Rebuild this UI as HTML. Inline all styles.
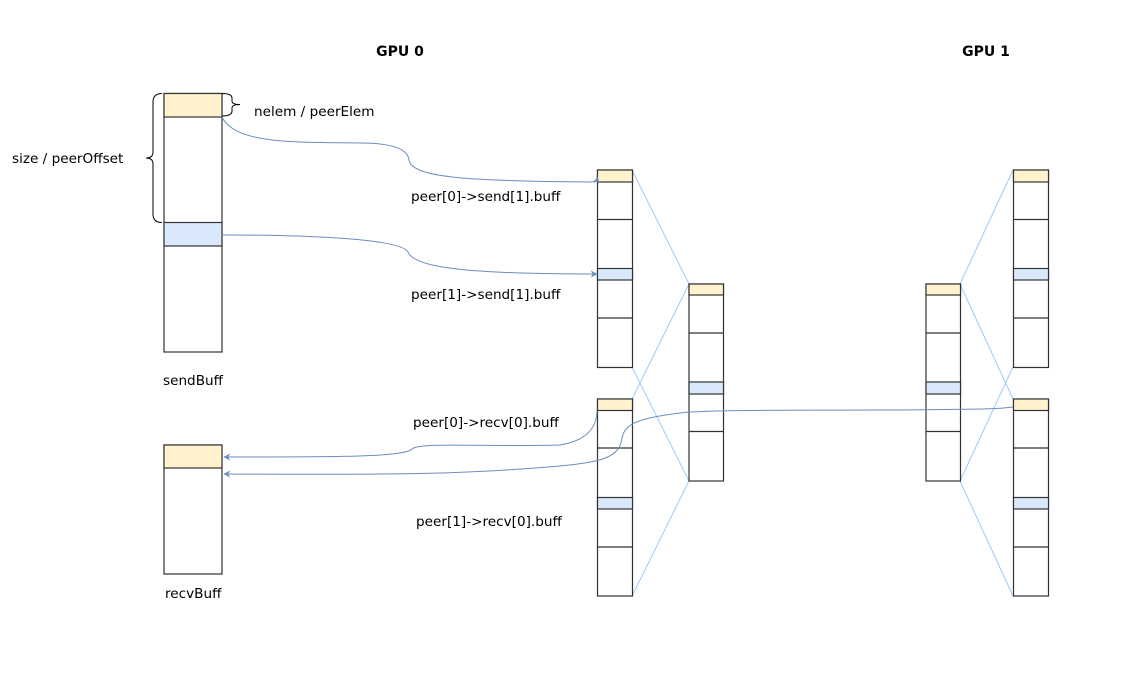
<!DOCTYPE html>
<html><head><meta charset="utf-8"><style>
html,body{margin:0;padding:0;background:#fff;}
svg text{font-family:"DejaVu Sans","Liberation Sans",sans-serif;font-size:13.6px;fill:#000;}
</style></head><body>
<svg width="1135" height="671" viewBox="0 0 1135 671" xmlns="http://www.w3.org/2000/svg">
<defs>
<marker id="ar" viewBox="0 0 10 10" refX="9" refY="5" markerWidth="7" markerHeight="7" orient="auto"><path d="M0,0 L10,5 L0,10 L3,5 z" fill="#6c8ebf"/></marker>
</defs>
<text x="400" y="56" text-anchor="middle" style="font-weight:bold;font-size:14px">GPU 0</text>
<text x="986" y="56" text-anchor="middle" style="font-weight:bold;font-size:14px">GPU 1</text>

<g stroke="#99ccff" stroke-width="1" fill="none">
<line x1="632" y1="170" x2="689" y2="284"/><line x1="632" y1="367" x2="689" y2="481"/>
<line x1="632" y1="399" x2="689" y2="284"/><line x1="632" y1="596" x2="689" y2="481"/>
<line x1="960" y1="284" x2="1013" y2="170"/><line x1="960" y1="481" x2="1013" y2="367"/>
<line x1="960" y1="284" x2="1013" y2="399"/><line x1="960" y1="481" x2="1013" y2="596"/>
</g>

<g stroke="#333" stroke-width="1.2">
<rect x="164" y="93.5" width="58" height="258.5" fill="#fff"/>
<rect x="164" y="93.5" width="58" height="23.5" fill="#fff2cc"/>
<rect x="164" y="222.5" width="58" height="23.5" fill="#dae8fc"/>
<rect x="164" y="445" width="58" height="129" fill="#fff"/>
<rect x="164" y="445" width="58" height="23" fill="#fff2cc"/>
</g>

<g stroke="#333" stroke-width="1.2" fill="#fff">
<rect x="597.5" y="170" width="35" height="197.5"/>
<rect x="597.5" y="170" width="35" height="12" fill="#fff2cc"/>
<line x1="597.5" y1="219.5" x2="632.5" y2="219.5"/>
<rect x="597.5" y="268.5" width="35" height="11.5" fill="#dae8fc"/>
<line x1="597.5" y1="318" x2="632.5" y2="318"/>
<rect x="597.5" y="399" width="35" height="197"/>
<rect x="597.5" y="399" width="35" height="11.5" fill="#fff2cc"/>
<line x1="597.5" y1="448" x2="632.5" y2="448"/>
<rect x="597.5" y="497.5" width="35" height="11.5" fill="#dae8fc"/>
<line x1="597.5" y1="547" x2="632.5" y2="547"/>
<rect x="689" y="284" width="34.5" height="197"/>
<rect x="689" y="284" width="34.5" height="11" fill="#fff2cc"/>
<line x1="689" y1="333" x2="723.5" y2="333"/>
<rect x="689" y="382" width="34.5" height="12" fill="#dae8fc"/>
<line x1="689" y1="431.5" x2="723.5" y2="431.5"/>
<rect x="926" y="284" width="34.5" height="197"/>
<rect x="926" y="284" width="34.5" height="11" fill="#fff2cc"/>
<line x1="926" y1="333" x2="960.5" y2="333"/>
<rect x="926" y="382" width="34.5" height="12" fill="#dae8fc"/>
<line x1="926" y1="431.5" x2="960.5" y2="431.5"/>
<rect x="1013.5" y="170" width="35" height="197.5"/>
<rect x="1013.5" y="170" width="35" height="12" fill="#fff2cc"/>
<line x1="1013.5" y1="219.5" x2="1048.5" y2="219.5"/>
<rect x="1013.5" y="268.5" width="35" height="11.5" fill="#dae8fc"/>
<line x1="1013.5" y1="318" x2="1048.5" y2="318"/>
<rect x="1013.5" y="399" width="35" height="197"/>
<rect x="1013.5" y="399" width="35" height="11.5" fill="#fff2cc"/>
<line x1="1013.5" y1="448" x2="1048.5" y2="448"/>
<rect x="1013.5" y="497.5" width="35" height="11.5" fill="#dae8fc"/>
<line x1="1013.5" y1="547" x2="1048.5" y2="547"/>
</g>

<g stroke="#000" stroke-width="1" fill="none">
<path d="M162,93.5 Q153,93.5 153,102 L153,152 Q153,158 146,158 Q153,158 153,164 L153,214 Q153,222.5 162,222.5"/>
<path d="M222,93.5 Q232,93.5 232,98 L232,101 Q232,104.5 240,104.5 Q232,104.5 232,108 L232,111 Q232,116 222,116"/>
</g>

<g stroke="#6c8ebf" stroke-width="1" fill="none">
<path d="M222,117 C235,145 300,142 360,143 C395,143 408,150 409,160 C412,178 470,181 590,182 Q597,182 597,177" marker-end="url(#ar)"/>
<path d="M222,235 C300,235 400,238 408,252 C414,268 470,274 597,274" marker-end="url(#ar)"/>
<path d="M597,410 C597,425 590,440 560,445 C480,447 420,442 412,449 C405,457 340,457 224,457" marker-end="url(#ar)"/>
<path d="M1013,407 C990,410 960,409 900,410 C800,410 700,410 680,413 C640,418 625,423 622,438 C620,458 600,462 560,466 C470,474 400,475 224,474" marker-end="url(#ar)"/>
</g>

<text x="254" y="116">nelem / peerElem</text>
<text x="12" y="163">size / peerOffset</text>
<text x="411" y="201">peer[0]-&gt;send[1].buff</text>
<text x="411" y="299">peer[1]-&gt;send[1].buff</text>
<text x="163" y="385">sendBuff</text>
<text x="413" y="427">peer[0]-&gt;recv[0].buff</text>
<text x="416" y="526">peer[1]-&gt;recv[0].buff</text>
<text x="165" y="598">recvBuff</text>
</svg>
</body></html>
